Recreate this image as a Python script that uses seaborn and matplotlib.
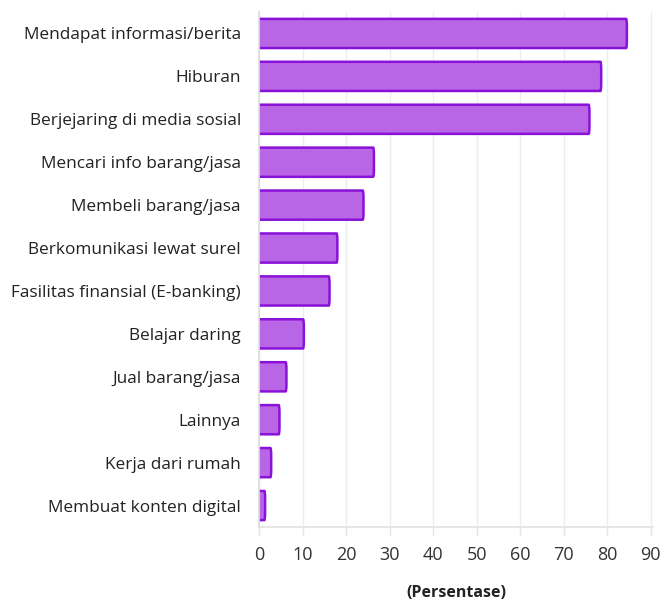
import matplotlib
matplotlib.use("Agg")
import matplotlib.pyplot as plt
import seaborn as sns
import pandas as pd
from matplotlib.patches import FancyBboxPatch

categories = [
    "Mendapat informasi/berita",
    "Hiburan",
    "Berjejaring di media sosial",
    "Mencari info barang/jasa",
    "Membeli barang/jasa",
    "Berkomunikasi lewat surel",
    "Fasilitas finansial (E-banking)",
    "Belajar daring",
    "Jual barang/jasa",
    "Lainnya",
    "Kerja dari rumah",
    "Membuat konten digital",
]
values = [84.5, 78.6, 75.9, 26.4, 24.0, 18.0, 16.2, 10.3, 6.3, 4.7, 2.8, 1.4]
x_ticks = [0, 10, 20, 30, 40, 50, 60, 70, 80, 90]
x_label = "(Persentase)"

sns.set_theme(style="white")
plt.rcParams["font.family"] = ["Open Sans", "DejaVu Sans"]

df = pd.DataFrame({"kategori": categories, "nilai": values})

fig = plt.figure(figsize=(6.66, 6.0), dpi=100)
ax = fig.add_axes([259 / 666, 1 - 527 / 600, (653 - 259) / 666, (527 - 12) / 600])

sns.barplot(data=df, x="nilai", y="kategori", orient="h", ax=ax,
            color="#b866e6", width=0.68, saturation=1)

fill = "#b866e6"
edge = "#8a12d8"
for p in list(ax.patches):
    x0, y0 = p.get_x(), p.get_y()
    w, h = p.get_width(), p.get_height()
    p.remove()
    box = FancyBboxPatch((x0 - 1.0, y0), w + 1.0, h,
                         boxstyle="round,pad=0,rounding_size=0.18",
                         mutation_aspect=1.0,
                         facecolor=fill, edgecolor=edge, linewidth=1.8,
                         zorder=3, clip_on=True)
    ax.add_patch(box)

ax.set_xlim(0, 90.5)
ax.set_xticks(x_ticks)
ax.xaxis.grid(True, color="#ededed", linewidth=1.0, zorder=0)
ax.set_axisbelow(True)

for s in ["top", "right"]:
    ax.spines[s].set_visible(False)
ax.spines["left"].set_color("#dddddd")
ax.spines["bottom"].set_color("#e3e3e3")
ax.spines["left"].set_zorder(5)

ax.tick_params(axis="x", bottom=True, length=6, width=1, color="#e3e3e3",
               labelsize=13, labelcolor="#333333", pad=8)
ax.tick_params(axis="y", left=False, labelsize=12.4, labelcolor="#222222", pad=7)

ax.set_ylabel("")
ax.set_xlabel(x_label, fontsize=11.5, fontweight="bold", color="#222222", labelpad=15)

fig.savefig("out.png", dpi=100)
